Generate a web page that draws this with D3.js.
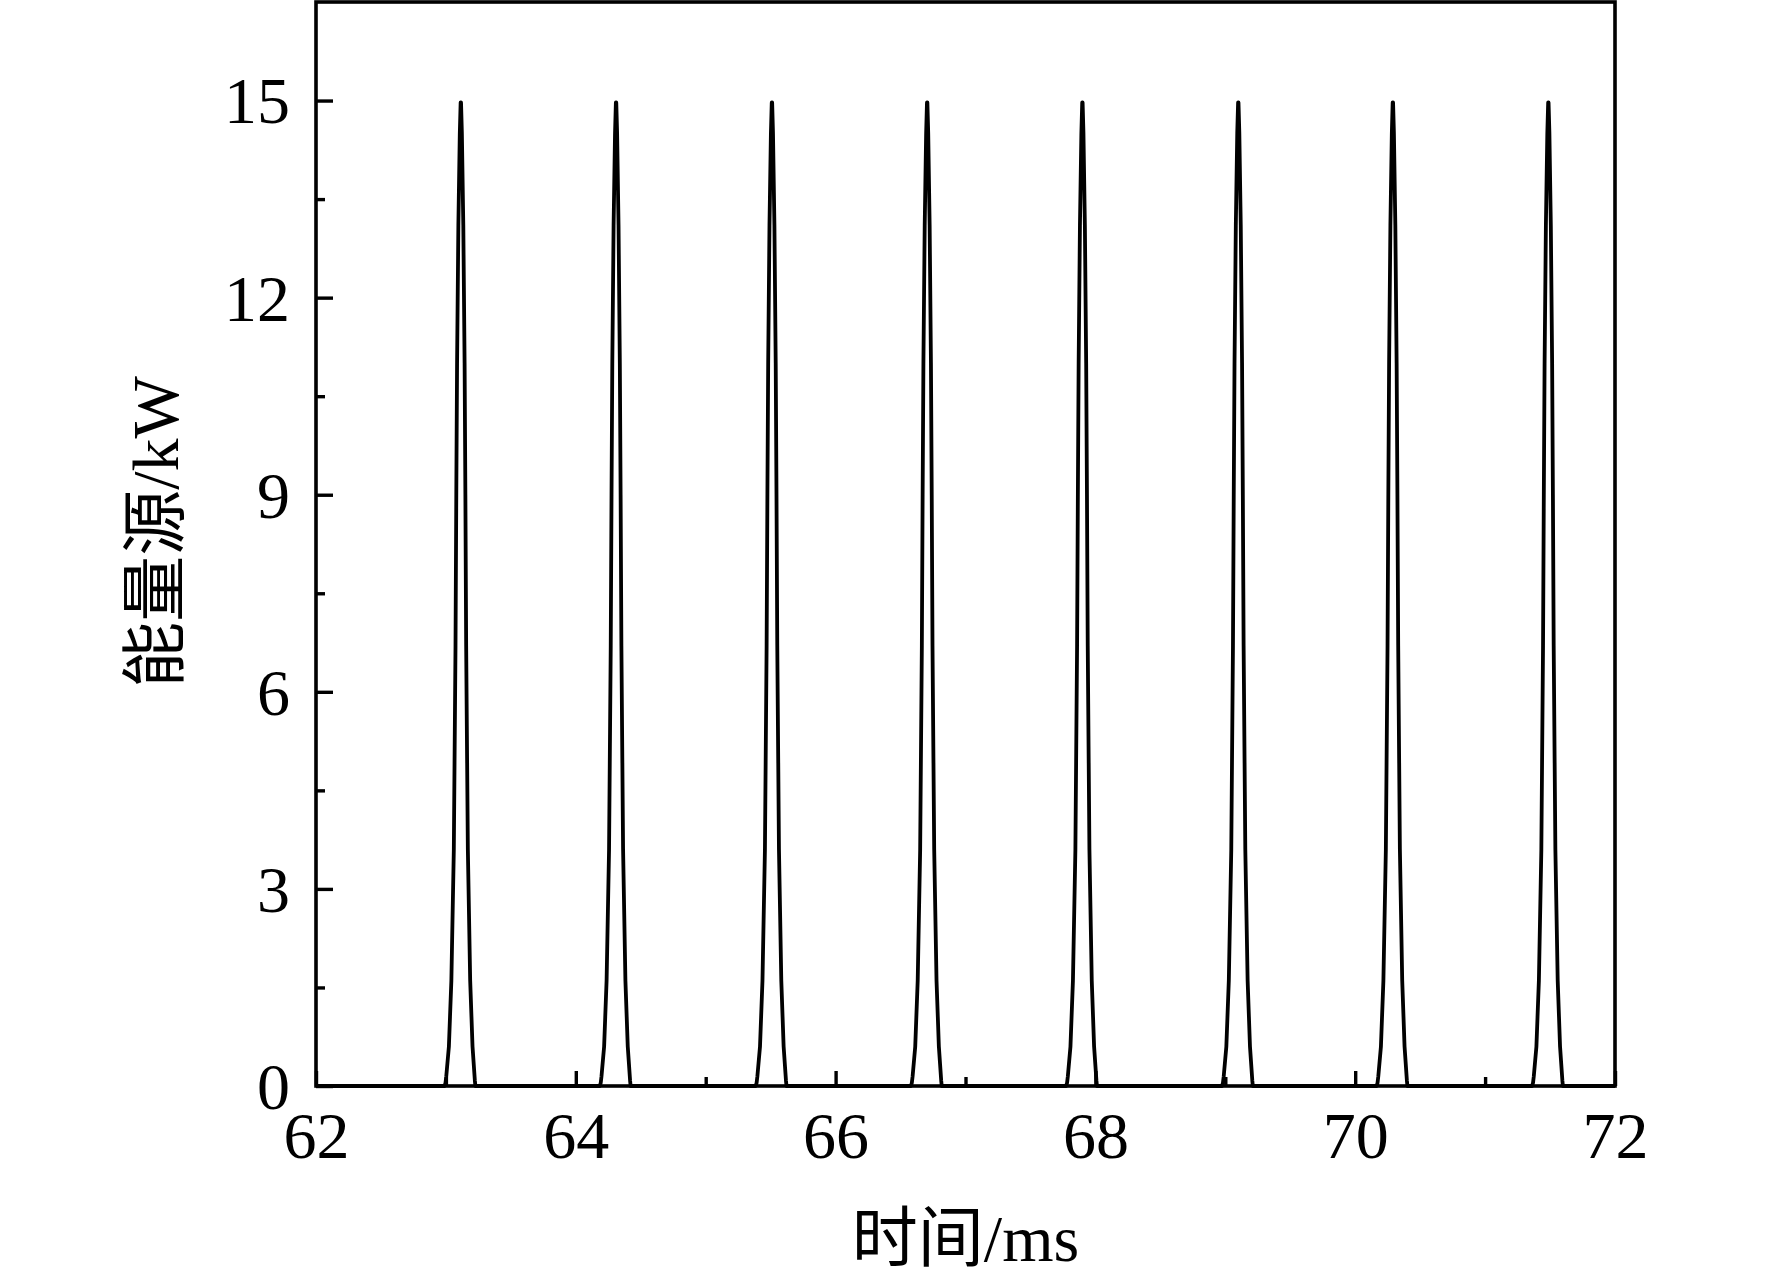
<!DOCTYPE html>
<html><head><meta charset="utf-8">
<script src="https://cdn.jsdelivr.net/npm/d3@7"></script>
<style>
html,body{margin:0;padding:0;background:#fff;}
text{font-family:"Liberation Serif","Noto Sans CJK SC",serif;fill:#000;}
</style></head>
<body><svg id="c" width="1772" height="1282"></svg>
<script>
// Pulse peak times (ms)
const peakTimes = [63.115, 64.31, 65.51, 66.705, 67.90, 69.10, 70.29, 71.487];
// Pulse profile: offset from peak (ms) and power (kW)
const pulseOffsets = [-0.125, -0.118, -0.112, -0.092, -0.073, -0.054, -0.041, -0.035, -0.029, -0.019, -0.008, -0.0015, 0.0015, 0.008, 0.019, 0.029, 0.035, 0.041, 0.054, 0.072, 0.090, 0.108, 0.112];
const pulseValues  = [0, 0.05, 0.15, 0.6, 1.6, 3.6, 6.7, 9.0, 11.0, 13.1, 14.5, 14.97, 14.97, 14.5, 13.1, 11.0, 9.0, 6.7, 3.6, 1.6, 0.6, 0.08, 0];
const xTicks = [62, 64, 66, 68, 70, 72];
const xMinorTicks = [63, 65, 67, 69, 71];
const yTicks = [0, 3, 6, 9, 12, 15];
const yMinorTicks = [1.5, 4.5, 7.5, 10.5, 13.5];
const xDomain = [62, 72];
const yDomain = [0, 16.5];
const xTitle = "时间/ms";
const yTitle = "能量源/kW";

const svg = d3.select("#c");
const L = 316, R = 1615, T = 2, B = 1086;
const x = d3.scaleLinear().domain(xDomain).range([L, R]);
const y = d3.scaleLinear().domain(yDomain).range([B, T]);

// build series
const data = [[xDomain[0], 0]];
peakTimes.forEach(p => {
  pulseOffsets.forEach((o, i) => data.push([p + o, pulseValues[i]]));
});
data.push([xDomain[1], 0]);

svg.append("path").datum(data)
  .attr("fill", "none").attr("stroke", "#000").attr("stroke-width", 3.8)
  .attr("stroke-linejoin", "round")
  .attr("d", d3.line().x(d => x(d[0])).y(d => y(d[1])));

const fs = 66;
// axes
const xAxis = d3.axisBottom(x).tickValues(xTicks).tickSize(-15).tickPadding(0).tickFormat(d3.format("d"));
const gx = svg.append("g").attr("transform", `translate(0,${B})`).call(xAxis);
gx.selectAll("text").attr("font-size", fs).attr("dy", null).attr("y", 72).attr("dominant-baseline", "auto");
const gxm = svg.append("g").attr("transform", `translate(0,${B})`).call(d3.axisBottom(x).tickValues(xMinorTicks).tickSize(-9).tickFormat(""));

const yAxis = d3.axisLeft(y).tickValues(yTicks).tickSize(-17).tickPadding(26).tickFormat(d3.format("d"));
const gy = svg.append("g").attr("transform", `translate(${L},0)`).call(yAxis);
gy.selectAll("text").attr("font-size", fs).attr("dy", "0.34em");
const gym = svg.append("g").attr("transform", `translate(${L},0)`).call(d3.axisLeft(y).tickValues(yMinorTicks).tickSize(-9).tickFormat(""));

[gx, gxm, gy, gym].forEach(g => {
  g.select(".domain").remove();
  g.selectAll(".tick line").attr("stroke", "#000").attr("stroke-width", 3.4);
});

// frame
svg.append("rect").attr("x", L).attr("y", T).attr("width", R - L).attr("height", B - T)
  .attr("fill", "none").attr("stroke", "#000").attr("stroke-width", 3.6);

// titles
svg.append("text").attr("x", (L + R) / 2).attr("y", 1261).attr("text-anchor", "middle")
  .attr("font-size", fs).text(xTitle);
svg.append("text").attr("transform", `translate(178,532) rotate(-90)`).attr("text-anchor", "middle")
  .attr("font-size", fs).text(yTitle);
</script></body></html>
